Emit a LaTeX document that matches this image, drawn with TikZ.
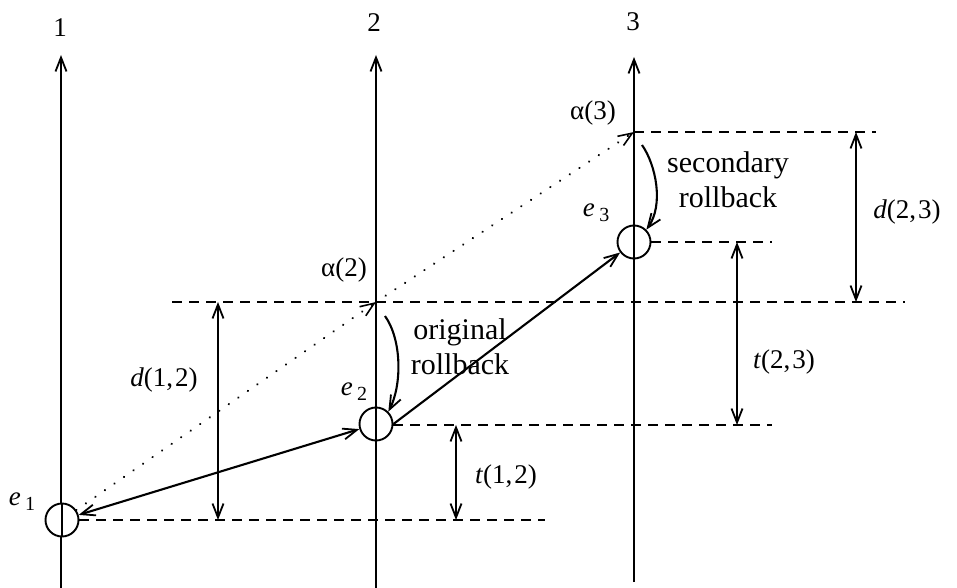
\documentclass[tikz,border=0pt]{standalone}
\usepackage{fontspec}
\setmainfont{Liberation Serif}
\usetikzlibrary{arrows.meta}
\tikzset{
  barb/.tip={Straight Barb[length=14pt,width=11pt,line width=1.8pt]},
  axis/.style={line width=1.7pt,-{barb}},
  dimarrow/.style={line width=1.9pt,{barb}-{barb}},
  msg/.style={line width=2.1pt},
  dotline/.style={line width=2.3pt,dash pattern=on 0.1pt off 11.5pt,line cap=round},
  guide/.style={line width=1.9pt,dash pattern=on 10pt off 7pt},
  event/.style={circle,draw,line width=1.9pt,minimum size=33pt,inner sep=0pt},
  lab/.style={font=\fontsize{27}{30}\selectfont,inner sep=0pt},
  txt/.style={font=\fontsize{30}{35}\selectfont,align=center,inner sep=0pt},
}
\newcommand{\evlab}[1]{\textit{e}\,\raisebox{-5pt}{\fontsize{20}{20}\selectfont #1}}
\newcommand{\cm}{,\hspace{2pt}}
\begin{document}
\begin{tikzpicture}[x=1pt,y=-1pt]
\useasboundingbox (0,0) rectangle (957,588);
% axes
\coordinate (b1) at (61,588); \coordinate (t1) at (61,55);
\coordinate (b2) at (376,588); \coordinate (t2) at (376,55);
\coordinate (b3) at (634,582); \coordinate (t3) at (634,57);
\draw[axis] (b1) -- (t1);
\draw[axis] (b2) -- (t2);
\draw[axis] (b3) -- (t3);
\node[lab] (n1) at (60,28) {1};
\node[lab] (n2) at (374,23) {2};
\node[lab] (n3) at (633,22) {3};
% events
\node[event,fill=white] (e1) at (62,520) {};
\node[event,fill=white] (e2) at (376,424) {};
\node[event,fill=white] (e3) at (634,242) {};
\draw[line width=1.7pt] (e1.north) -- (e1.south) (e2.north) -- (e2.south) (e3.north) -- (e3.south);
\coordinate (a2) at (376,302);
\coordinate (a3) at (634,132);
% dashed guides
\coordinate (g1s) at (79,520); \coordinate (g1e) at (545,520);
\coordinate (g2s) at (393,425); \coordinate (g2e) at (772,425);
\coordinate (g3s) at (172,302); \coordinate (g3e) at (905,302);
\coordinate (g4s) at (651,242); \coordinate (g4e) at (772,242);
\coordinate (g5s) at (634,132); \coordinate (g5e) at (876,132);
\draw[guide] (g1s) -- (g1e);
\draw[guide] (g2s) -- (g2e);
\draw[guide] (g3s) -- (g3e);
\draw[guide] (g4s) -- (g4e);
\draw[guide] (g5s) -- (g5e);
% dimension arrows
\coordinate (d12a) at (218,302); \coordinate (d12b) at (218,520);
\coordinate (t12a) at (456,425); \coordinate (t12b) at (456,520);
\coordinate (t23a) at (737,242); \coordinate (t23b) at (737,425);
\coordinate (d23a) at (856,132); \coordinate (d23b) at (856,302);
\draw[dimarrow] (d12a) -- (d12b);
\draw[dimarrow] (t12a) -- (t12b);
\draw[dimarrow] (t23a) -- (t23b);
\draw[dimarrow] (d23a) -- (d23b);
% messages
\draw[msg,{barb}-{barb}] (e1) -- (e2);
\draw[msg,-{barb}] (e2.east) -- (e3);
\draw[dotline,-{barb[line width=1.6pt]}] (e1) -- (a2);
\draw[dotline,-{barb[line width=1.6pt]}] (a2) -- (a3);
% rollbacks
\coordinate (r1s) at (385,316);
\coordinate (r2s) at (642,145);
\draw[msg,-{barb}] (r1s) .. controls (402,340) and (402,385) .. (e2.north east);
\draw[msg,-{barb}] (r2s) .. controls (656,165) and (664,205) .. (e3.north east);
% labels
\node[lab] (la2) at (344,270) {α(2)};
\node[lab] (la3) at (593,113) {α(3)};
\node[lab] (le1) at (22,502) {\evlab{1}};
\node[lab] (le2) at (354,392) {\evlab{2}};
\node[lab] (le3) at (596,213) {\evlab{3}};
\node[lab] (ld12) at (164,380) {\textit{d}(1\cm 2)};
\node[lab] (lt12) at (506,477) {\textit{t}(1\cm 2)};
\node[lab] (lt23) at (784,362) {\textit{t}(2\cm 3)};
\node[lab] (ld23) at (907,212) {\textit{d}(2\cm 3)};
\node[txt] (orig) at (460,347) {original\\rollback};
\node[txt] (sec) at (728,180) {secondary\\rollback};
\end{tikzpicture}
\end{document}
